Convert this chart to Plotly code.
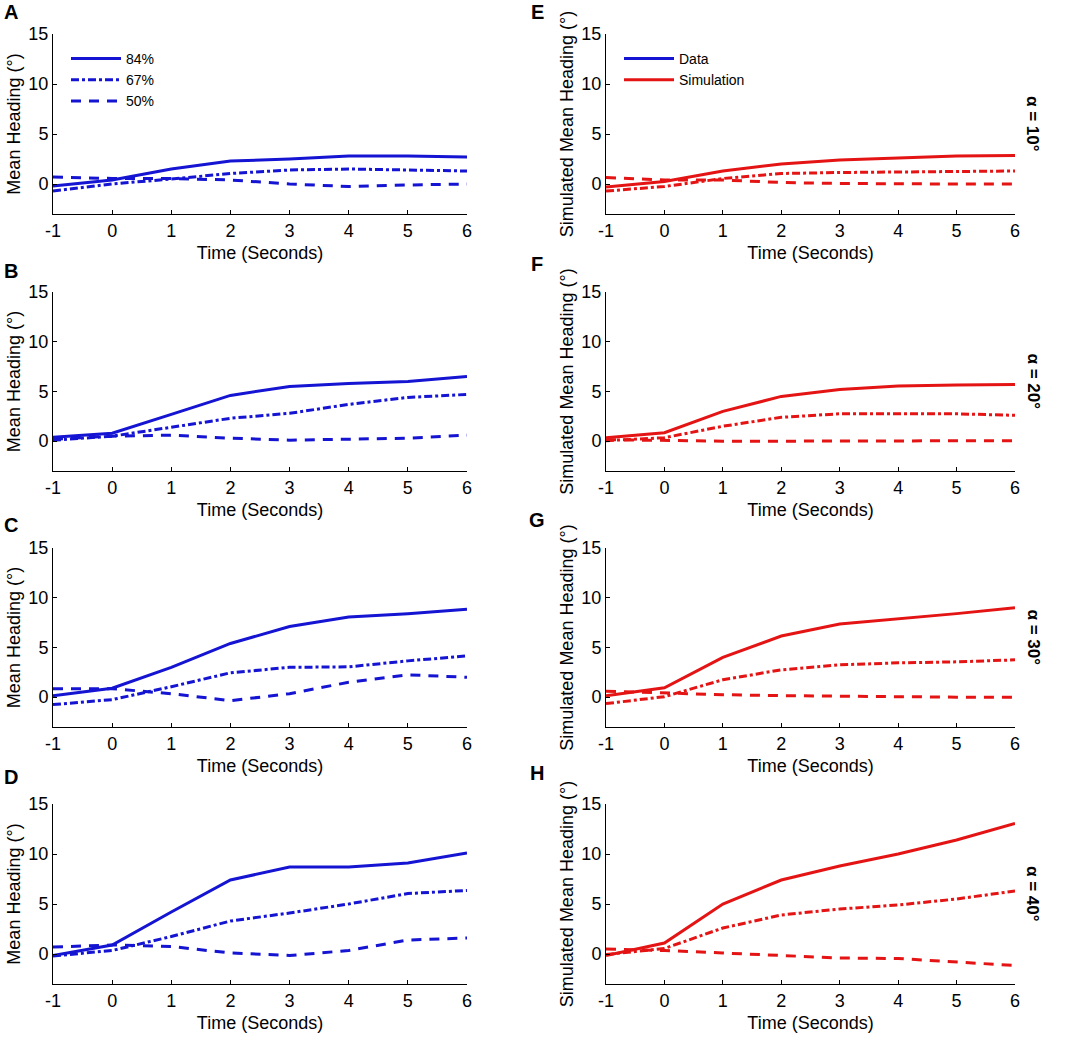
import plotly.graph_objects as go
from plotly.subplots import make_subplots

time = [-1, 0, 1, 2, 3, 4, 5, 6]
x_ticks = [-1, 0, 1, 2, 3, 4, 5, 6]
y_ticks = [0, 5, 10, 15]
series_names = ["84%", "67%", "50%"]

# Data (left column, blue)
a84 = [-0.2, 0.4, 1.5, 2.3, 2.5, 2.8, 2.8, 2.7]
a67 = [-0.7, 0.0, 0.5, 1.05, 1.4, 1.5, 1.4, 1.3]
a50 = [0.7, 0.55, 0.55, 0.4, 0.0, -0.25, -0.1, 0.0]

b84 = [0.4, 0.8, 2.7, 4.6, 5.5, 5.8, 6.0, 6.5]
b67 = [0.1, 0.5, 1.4, 2.3, 2.8, 3.7, 4.4, 4.7]
b50 = [0.2, 0.5, 0.6, 0.3, 0.1, 0.2, 0.3, 0.6]

c84 = [0.15, 0.9, 3.0, 5.4, 7.1, 8.05, 8.4, 8.85]
c67 = [-0.75, -0.25, 1.05, 2.45, 3.0, 3.05, 3.65, 4.15]
c50 = [0.85, 0.85, 0.35, -0.35, 0.35, 1.5, 2.25, 2.0]

d84 = [-0.15, 0.9, 4.2, 7.4, 8.7, 8.7, 9.1, 10.1]
d67 = [-0.2, 0.35, 1.75, 3.3, 4.1, 5.0, 6.05, 6.35]
d50 = [0.7, 0.9, 0.75, 0.1, -0.15, 0.35, 1.4, 1.6]

# Simulation (right column, red)
e84 = [-0.3, 0.25, 1.3, 2.0, 2.4, 2.6, 2.8, 2.85]
e67 = [-0.7, -0.25, 0.55, 1.05, 1.15, 1.2, 1.3, 1.3]
e50 = [0.65, 0.4, 0.4, 0.15, 0.05, 0.0, 0.0, 0.0]

f84 = [0.35, 0.85, 3.0, 4.5, 5.2, 5.55, 5.65, 5.7]
f67 = [0.05, 0.35, 1.5, 2.4, 2.75, 2.75, 2.75, 2.6]
f50 = [0.15, 0.05, 0.0, 0.0, 0.0, 0.0, 0.0, 0.05]

g84 = [0.15, 0.95, 4.0, 6.15, 7.35, 7.85, 8.4, 9.0]
g67 = [-0.65, 0.05, 1.75, 2.75, 3.25, 3.45, 3.55, 3.75]
g50 = [0.6, 0.4, 0.25, 0.15, 0.1, 0.0, 0.0, 0.0]

h84 = [-0.15, 1.1, 5.0, 7.4, 8.8, 10.0, 11.4, 13.05]
h67 = [-0.05, 0.55, 2.6, 3.9, 4.5, 4.9, 5.5, 6.3]
h50 = [0.5, 0.35, 0.1, -0.15, -0.4, -0.45, -0.8, -1.15]

left_panels = [(a84, a67, a50), (b84, b67, b50), (c84, c67, c50), (d84, d67, d50)]
right_panels = [(e84, e67, e50), (f84, f67, f50), (g84, g67, g50), (h84, h67, h50)]
panel_letters_left = ["A", "B", "C", "D"]
panel_letters_right = ["E", "F", "G", "H"]
alpha_labels = ["α = 10°", "α = 20°", "α = 30°", "α = 40°"]
legend2_names = ["Data", "Simulation"]

BLUE = "#1414d2"
RED = "#e41414"
DASHES = ["solid", "8px,3px,3px,3px", "10px,8px"]
FONT = "Liberation Sans, Arial, sans-serif"
W, H = 1065, 1041


def px_x(v):
    return v / W


def px_y(v):
    return 1 - v / H


fig = make_subplots(rows=4, cols=2)

# pixel geometry (top, bottom) of each row's plotting area
row_px = [(34, 214), (292, 471), (548, 727), (804, 984)]
col_px = [(53, 467), (606, 1015)]

for r in range(4):
    for c in range(2):
        vals = left_panels[r] if c == 0 else right_panels[r]
        color = BLUE if c == 0 else RED
        for k in range(3):
            showleg = (r == 0 and c == 0)
            fig.add_trace(
                go.Scatter(
                    x=time, y=vals[k], mode="lines",
                    line=dict(color=color, width=3, dash=DASHES[k]),
                    name=series_names[k], showlegend=showleg,
                    legend="legend",
                ),
                row=r + 1, col=c + 1,
            )

# legend entries for panel E
fig.add_trace(go.Scatter(x=[None], y=[None], mode="lines",
                         line=dict(color=BLUE, width=3), name=legend2_names[0],
                         showlegend=True, legend="legend2"), row=1, col=2)
fig.add_trace(go.Scatter(x=[None], y=[None], mode="lines",
                         line=dict(color=RED, width=3), name=legend2_names[1],
                         showlegend=True, legend="legend2"), row=1, col=2)

axis_common = dict(
    showgrid=False, zeroline=False, showline=True, linecolor="black",
    linewidth=1, ticks="inside", ticklen=4, tickcolor="black",
    tickfont=dict(family=FONT, size=18, color="black"), mirror=False,
    automargin=False,
)

for r in range(4):
    t, b = row_px[r]
    for c in range(2):
        l, rr = col_px[c]
        fig.update_xaxes(
            row=r + 1, col=c + 1, domain=[px_x(l), px_x(rr)], range=[-1, 6],
            tickvals=x_ticks, ticktext=[str(v) for v in x_ticks],
            title=dict(text="Time (Seconds)", font=dict(family=FONT, size=18, color="black"), standoff=6),
            **axis_common,
        )
        fig.update_yaxes(
            row=r + 1, col=c + 1, domain=[px_y(b), px_y(t)], range=[-3, 15],
            tickvals=y_ticks,
            title=dict(text=("Mean Heading (°)" if c == 0 else "Simulated Mean Heading (°)"),
                       font=dict(family=FONT, size=18, color="black"), standoff=3),
            **axis_common,
        )

# panel letters
letter_pos_left = [12, 271, 525, 777]
letter_pos_right = [12, 264, 520, 773]
for r in range(4):
    fig.add_annotation(text="<b>%s</b>" % panel_letters_left[r], xref="paper", yref="paper",
                       x=px_x(11), y=px_y(letter_pos_left[r]), showarrow=False,
                       xanchor="center", yanchor="middle",
                       font=dict(family=FONT, size=20, color="black"))
    fig.add_annotation(text="<b>%s</b>" % panel_letters_right[r], xref="paper", yref="paper",
                       x=px_x(537), y=px_y(letter_pos_right[r]), showarrow=False,
                       xanchor="center", yanchor="middle",
                       font=dict(family=FONT, size=20, color="black"))
    t, b = row_px[r]
    fig.add_annotation(text="<b>%s</b>" % alpha_labels[r], xref="paper", yref="paper",
                       x=px_x(1033), y=px_y((t + b) / 2), showarrow=False,
                       textangle=90, xanchor="center", yanchor="middle",
                       font=dict(family=FONT, size=17, color="black"))

fig.update_layout(
    width=W, height=H,
    margin=dict(l=0, r=0, t=0, b=0, autoexpand=False),
    paper_bgcolor="white", plot_bgcolor="white",
    font=dict(family=FONT, color="black"),
    legend=dict(x=px_x(66), y=px_y(43), xanchor="left", yanchor="top",
                bgcolor="rgba(0,0,0,0)", font=dict(family=FONT, size=14, color="black"),
                itemwidth=50, tracegroupgap=0),
    legend2=dict(x=px_x(619), y=px_y(43), xanchor="left", yanchor="top",
                 bgcolor="rgba(0,0,0,0)", font=dict(family=FONT, size=14, color="black"),
                 itemwidth=50, tracegroupgap=0),
)

fig.write_html("out.html", config={"displayModeBar": False},
               post_script="document.body.style.margin='0px';document.body.style.padding='0px';")
